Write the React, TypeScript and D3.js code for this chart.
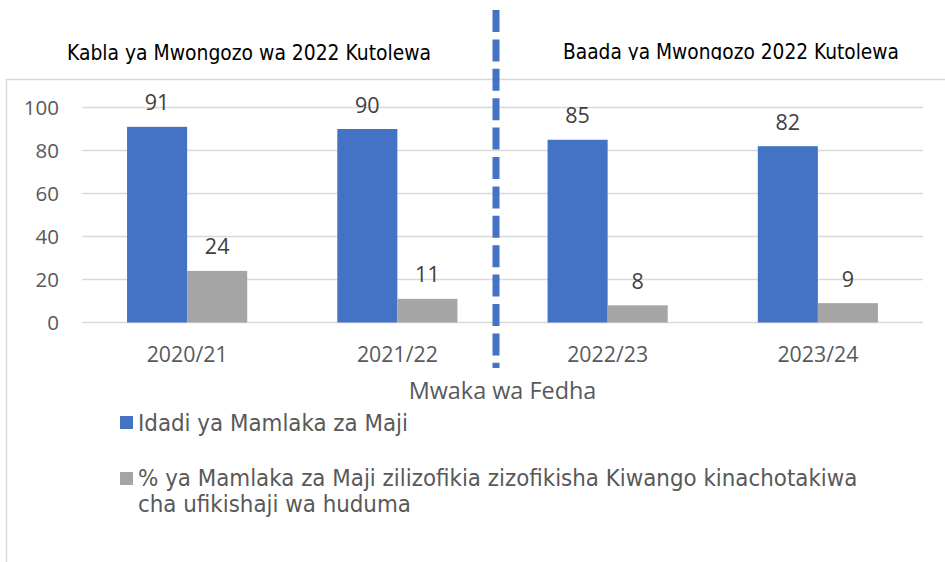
import * as React from 'react';
import * as d3 from 'd3';

const years = ['2020/21', '2021/22', '2022/23', '2023/24'];
const idadi = [91, 90, 85, 82];
const asilimia = [24, 11, 8, 9];
const yTicks = [0, 20, 40, 60, 80, 100];
const seriesNames = [
  'Idadi ya Mamlaka za Maji',
  '% ya Mamlaka za Maji zilizofikia zizofikisha Kiwango kinachotakiwa',
];
const seriesNameLine2 = 'cha ufikishaji wa huduma';
const titleBefore = 'Kabla ya Mwongozo wa 2022 Kutolewa';
const titleAfter = 'Baada ya Mwongozo 2022 Kutolewa';
const xTitle = 'Mwaka wa Fedha';

const colours = ['#4472c4', '#a5a5a5'];
const width = 945;
const height = 562;

export default function App() {
  const x = d3.scaleBand().domain(years).range([82, 923]);
  const y = d3.scaleLinear().domain([0, 100]).range([322.5, 107.5]);
  const barW = x.bandwidth() / 3.5;
  const series = [idadi, asilimia];

  const axisFont = '"Open Sans", sans-serif';
  const titleFont = '"DejaVu Sans Condensed", "DejaVu Sans", sans-serif';

  return (
    <svg width={width} height={height} style={{ position: 'absolute', left: 0, top: 0, background: '#fff' }}>
      <defs>
        <clipPath id="clip-after">
          <rect x={500} y={0} width={445} height={60} />
        </clipPath>
      </defs>

      {/* chart frame */}
      <line x1={6.5} x2={6.5} y1={79.5} y2={height} stroke="#d9d9d9" strokeWidth={1.5} />
      <line x1={6} x2={width} y1={79.5} y2={79.5} stroke="#d9d9d9" strokeWidth={1.5} />

      {/* gridlines and ticks */}
      {yTicks.map(t => (
        <g key={t}>
          <line x1={82} x2={923} y1={y(t)} y2={y(t)} stroke="#d9d9d9" strokeWidth={1.5} />
          <text x={59} y={y(t)} dy="0.35em" textAnchor="end" fontFamily={axisFont} fontSize={20.5} fill="#595959">
            {t}
          </text>
        </g>
      ))}

      {/* bars */}
      {series.map((vals, si) =>
        vals.map((v, i) => {
          const cx = (x(years[i]) ?? 0) + x.bandwidth() / 2;
          const bx = cx - barW + si * barW;
          return (
            <g key={`${si}-${i}`}>
              <rect x={bx} y={y(v)} width={barW} height={y(0) - y(v)} fill={colours[si]} />
              <text x={bx + barW / 2} y={y(v) - 16.5} textAnchor="middle" fontFamily={axisFont} fontSize={21.5} fill="#404040">
                {v}
              </text>
            </g>
          );
        })
      )}

      {/* category labels */}
      {years.map(c => (
        <text key={c} x={(x(c) ?? 0) + x.bandwidth() / 2} y={362} textAnchor="middle" fontFamily={axisFont} fontSize={21.3} fill="#595959">
          {c}
        </text>
      ))}
      <text x={502.5} y={399} textAnchor="middle" fontFamily={axisFont} fontSize={23.4} fill="#595959">
        {xTitle}
      </text>

      {/* divider between the two periods */}
      <line x1={496} x2={496} y1={10} y2={368} stroke="#4472c4" strokeWidth={7} strokeDasharray="22 7.4" />

      {/* period titles */}
      <text x={67} y={60} fontFamily={titleFont} fontSize={20.85} fill="#000">
        {titleBefore}
      </text>
      <text x={563} y={59} fontFamily={titleFont} fontSize={20.7} fill="#000" clipPath="url(#clip-after)">
        {titleAfter}
      </text>

      {/* legend */}
      <rect x={120} y={416} width={13} height={13} fill={colours[0]} />
      <text x={138} y={431} fontFamily={titleFont} fontSize={23.8} fill="#595959">
        {seriesNames[0]}
      </text>
      <rect x={120} y={472} width={13} height={13} fill={colours[1]} />
      <text x={138} y={486} fontFamily={titleFont} fontSize={23.8} fill="#595959">
        {seriesNames[1]}
      </text>
      <text x={138} y={512} fontFamily={titleFont} fontSize={23.8} fill="#595959">
        {seriesNameLine2}
      </text>
    </svg>
  );
}
